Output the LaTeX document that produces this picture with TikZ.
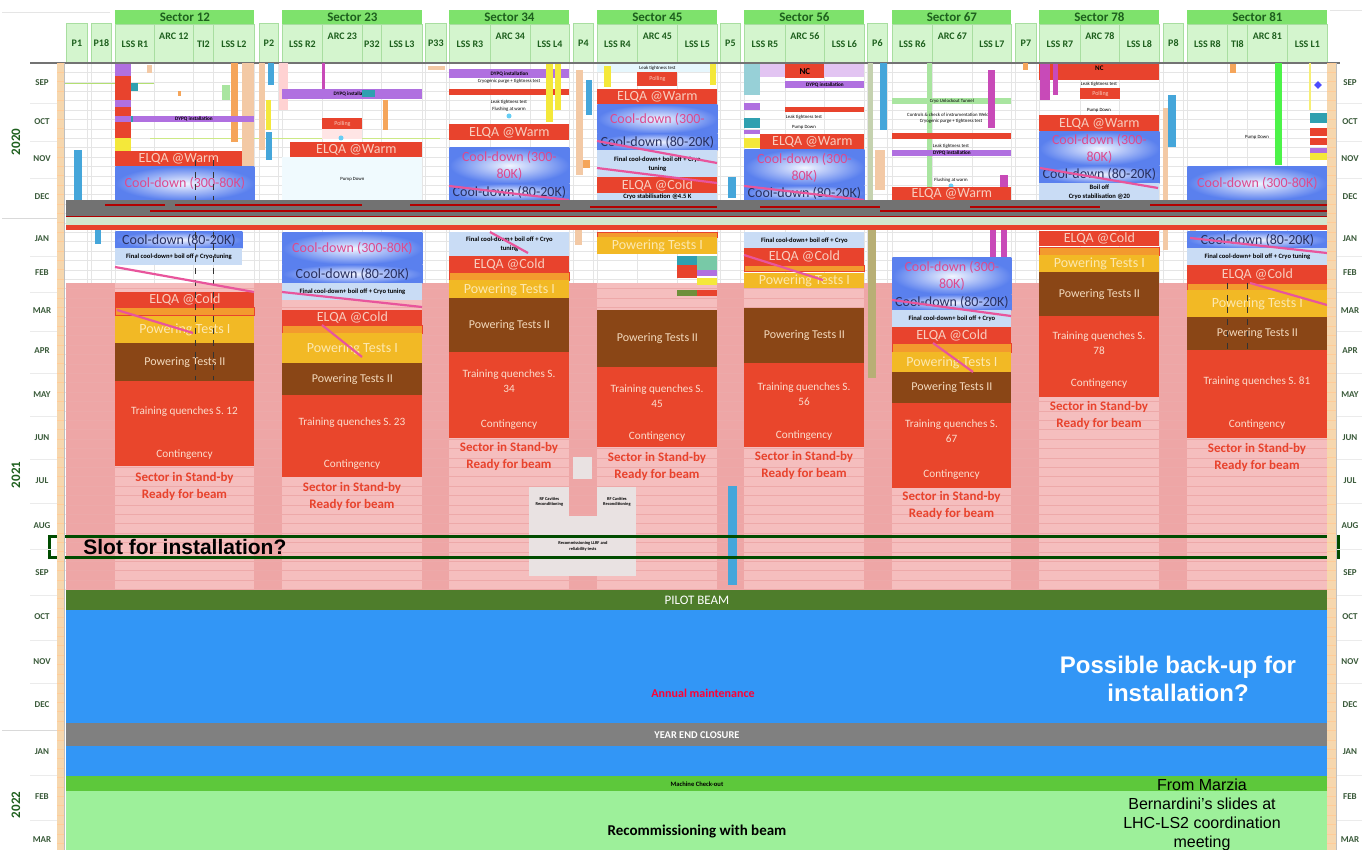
\documentclass[tikz,border=0pt]{standalone}
\usepackage{fontspec}
\setmainfont{Carlito}
\newfontfamily\arialfont{Liberation Sans}
\usetikzlibrary{shapes.geometric}

\definecolor{elqared}{HTML}{E8432D}
\definecolor{elqatxt}{HTML}{F8CDBE}
\definecolor{cdout}{HTML}{5A80EE}
\definecolor{cdin}{HTML}{F2F5FF}
\definecolor{cdpink}{HTML}{DC4A8E}
\definecolor{cdnavy}{HTML}{283060}
\definecolor{fcdblue}{HTML}{C9DCF5}
\definecolor{gpsor}{HTML}{F39A2E}
\definecolor{ptone}{HTML}{F2B925}
\definecolor{ptonetxt}{HTML}{FCE8B0}
\definecolor{pttwo}{HTML}{8A4616}
\definecolor{pttwotxt}{HTML}{F3D9BC}
\definecolor{trqred}{HTML}{E9462C}
\definecolor{trqtext}{HTML}{FBDCCC}
\definecolor{pinkbg}{HTML}{F5BEBE}
\definecolor{pinkgap}{HTML}{EEA6A6}
\definecolor{pinkline}{HTML}{EDA9A9}
\definecolor{hdrgreen}{HTML}{7EE26C}
\definecolor{hdrtxt}{HTML}{1D5F1D}
\definecolor{subgreen}{HTML}{D4F5CE}
\definecolor{subline}{HTML}{A8DEA0}
\definecolor{montxt}{HTML}{3A5A3A}
\definecolor{greyband}{HTML}{727272}
\definecolor{pilotgreen}{HTML}{4E7D2B}
\definecolor{maintblue}{HTML}{3296F6}
\definecolor{yearend}{HTML}{808080}
\definecolor{checkout}{HTML}{5DC83B}
\definecolor{recom}{HTML}{9DF09A}
\definecolor{diagpink}{HTML}{E8559C}
\definecolor{wkstrip}{HTML}{F6D7AE}
\definecolor{purp}{HTML}{B070E0}
\definecolor{tealb}{HTML}{2FA0B0}
\definecolor{yel}{HTML}{F4E83A}
\definecolor{tanb}{HTML}{F3C9A5}
\definecolor{orgb}{HTML}{F5A55A}
\definecolor{blu}{HTML}{45A6DA}
\definecolor{oliveb}{HTML}{6F8F3A}
\definecolor{ltgreen}{HTML}{A9E5A0}
\definecolor{lav}{HTML}{E2C4F2}
\definecolor{magv}{HTML}{C84AB8}
\definecolor{rfgrey}{HTML}{E9E2E2}

\begin{document}
\begin{tikzpicture}[x=0.5pt, y=-0.5pt,
  every node/.style={inner sep=0pt, font=\fontsize{5}{6}\selectfont},
  sz/.style 2 args={anchor=north west, minimum width=(#1)*0.5pt, minimum height=(#2)*0.5pt},
  sect/.style={fill=hdrgreen, text=hdrtxt, font=\bfseries\fontsize{6.5}{7}\selectfont},
  subc/.style={fill=subgreen, draw=subline, line width=0.4pt, text=hdrtxt, font=\bfseries\fontsize{5}{6}\selectfont, align=center},
  mon/.style={text=montxt, font=\bfseries\fontsize{4.5}{5}\selectfont},
  yr/.style={text=hdrtxt, rotate=90, font=\bfseries\fontsize{6.5}{7}\selectfont},
  elqa/.style={fill=elqared, text=elqatxt, font=\fontsize{7}{8}\selectfont},
  cdhi/.style={inner color=cdin, outer color=cdout, text=cdpink, font=\fontsize{7}{8.5}\selectfont, align=center},
  cdlo/.style={inner color=cdin, outer color=cdout, text=cdnavy, font=\fontsize{7}{8}\selectfont},
  fcd/.style={fill=fcdblue, text=black, font=\bfseries\fontsize{3.3}{4.4}\selectfont, align=center},
  gps/.style={fill=gpsor, draw=elqared, line width=0.5pt},
  pta/.style={fill=ptone, text=ptonetxt, font=\fontsize{7}{8}\selectfont},
  ptb/.style={fill=pttwo, text=pttwotxt, font=\fontsize{6}{7}\selectfont},
  trq/.style={fill=trqred},
  trqtxt/.style={text=trqtext, font=\fontsize{5.6}{7.5}\selectfont, align=center},
  stby/.style={text=elqared, font=\bfseries\fontsize{6.5}{8.5}\selectfont, align=center},
  note/.style={font=\fontsize{2.4}{3}\selectfont, align=center},
  dypq/.style={fill=purp, font=\bfseries\fontsize{2.6}{3}\selectfont},
  poll/.style={fill=elqared, text=elqatxt, font=\fontsize{3}{3.5}\selectfont},
  rfbox/.style={fill=rfgrey, font=\bfseries\fontsize{2.2}{2.8}\selectfont, align=center},
  diag/.style={draw=diagpink, line width=1.1pt},
  grd/.style={draw=black!10, line width=0.25pt},
  pgrd/.style={draw=pinkline, line width=0.25pt},
  redln/.style={draw=red!70!black, line width=0.9pt}]

\useasboundingbox (0,0) rectangle (1362,850);
\fill[white] (0,0) rectangle (1362,850);

% header
\draw[black!10] (2,12) -- (110,12);
\draw[black!10] (1330,10) -- (1362,10);
\node[sect, sz={139}{14}] (s12) at (115,10) {Sector 12};
\node[sect, sz={140}{14}] (s23) at (282,10) {Sector 23};
\node[sect, sz={120}{14}] (s34) at (449,10) {Sector 34};
\node[sect, sz={120}{14}] (s45) at (597,10) {Sector 45};
\node[sect, sz={120}{14}] (s56) at (744,10) {Sector 56};
\node[sect, sz={119}{14}] (s67) at (892,10) {Sector 67};
\node[sect, sz={120}{14}] (s78) at (1039,10) {Sector 78};
\node[sect, sz={140}{14}] (s81) at (1187,10) {Sector 81};
\foreach \xa/\xb/\lab [count=\i] in {66/87/P1, 91/111/P18, 259/278/P2, 425/446/P33, 573/593/P4,
    720/740/P5, 867/887/P6, 1015/1036/P7, 1163/1183/P8}
  \node[subc, sz={\xb-\xa}{40}] (p\i) at (\xa,23) {\lab};
\foreach \xa/\xb/\lab [count=\i] in {115/154/LSS R1, 154/193/ARC 12\\\strut, 193/213/TI2, 213/254/LSS L2,
    282/322/LSS R2, 322/362/ARC 23\\\strut, 362/381/P32, 381/422/LSS L3,
    449/490/LSS R3, 490/530/ARC 34\\\strut, 530/569/LSS L4,
    597/637/LSS R4, 637/677/ARC 45\\\strut, 677/717/LSS L5,
    744/785/LSS R5, 785/824/ARC 56\\\strut, 824/864/LSS L6,
    892/932/LSS R6, 932/972/ARC 67\\\strut, 972/1011/LSS L7,
    1039/1080/LSS R7, 1080/1119/ARC 78\\\strut, 1119/1159/LSS L8,
    1187/1227/LSS R8, 1227/1247/TI8, 1247/1287/ARC 81\\\strut, 1287/1327/LSS L1}
  \node[subc, sz={\xb-\xa}{39}] (h\i) at (\xa,24) {\lab};

% grid
\foreach \k in {0,...,56}
  \draw[grd] (64,{63+9.4*\k}) -- (1327,{63+9.4*\k});
\foreach \xx in {87,91,111,115,154,193,213,254,259,278,282,322,362,381,422,425,446,449,490,530,569,573,593,597,
    637,677,717,720,740,744,785,824,864,867,887,892,932,972,1011,1015,1036,1039,1080,1119,1159,1163,1183,1187,
    1227,1247,1287}
  \draw[grd] (\xx,63) -- (\xx,590);
\fill[pinkbg] (66,283) rectangle (1327,590);
\foreach \xa/\xb in {66/115, 254/282, 422/449, 569/597, 717/744, 864/892, 1011/1039, 1159/1187}
  \fill[pinkgap] (\xa,283) rectangle (\xb,590);
\foreach \k in {24,...,56}
  \draw[pgrd] (66,{63+9.4*\k}) -- (1327,{63+9.4*\k});
\draw[black!55, line width=0.6pt] (30,63) -- (1340,63);

% small items before the winter stop
\draw[yellow!50!green!60, line width=0.5pt] (64,84) -- (154,84);
\draw[yellow!60!green!50, line width=0.5pt] (150,139) -- (440,139);
\fill[purp] (115,64) rectangle (131,76);
\fill[elqared] (115,76) rectangle (131,100);
\fill[tealb] (131,83) rectangle (138,91);
\fill[purp] (115,100) rectangle (131,107);
\fill[elqared] (115,107) rectangle (131,116);
\fill[purp] (115,116) rectangle (131,122);
\fill[tealb] (131,116) rectangle (137,122);
\fill[elqared] (115,122) rectangle (131,138);
\fill[yel] (115,138) rectangle (131,151);
\fill[tanb] (147,65) rectangle (152,73);
\fill[orgb] (178,91) rectangle (181,96);
\fill[ltgreen] (222,85) rectangle (230,100);
\fill[orgb] (231,63) rectangle (238,142);
\fill[tanb] (242,63) rectangle (254,190);
\fill[blu] (74,150) rectangle (82,200);
\fill[blu] (95,226) rectangle (101,244);
\node[dypq, sz={121}{6}] (dy12) at (133,116) {DYPQ installation};
\fill[tanb] (259,63) rectangle (265,150);
\fill[blu] (268,63) rectangle (274,85);
\fill[yel] (266,100) rectangle (271,130);
\fill[blu] (266,132) rectangle (272,160);
\fill[pink!70] (279,63) rectangle (288,110);
\fill[magv] (322,63) rectangle (325,90);
\node[dypq, sz={140}{10}] (dy23) at (282,89) {DYPQ installation};
\fill[tealb] (362,90) rectangle (375,97);
\fill[orgb] (383,100) rectangle (388,130);
\node[poll, sz={40}{11}] (pl23) at (322,118) {Polling};
\fill[pink!40] (322,129) rectangle (362,139);
\fill[cyan!60] (341,138) circle (2.5);
\fill[orgb] (382,188) rectangle (420,192);
\fill[tanb] (428,66) rectangle (445,70);
\node[dypq, sz={120}{9}] (dy34) at (449,69) {DYPQ installation};
\node[note] (cp34) at (509,81) {Cryogenic purge + tightness test};
\fill[elqared] (449,89) rectangle (569,95);
\node[note] (lk34) at (509,102) {Leak tightness test};
\node[note] (fl34) at (509,109) {Flushing at warm};
\fill[cyan!60] (509,116) circle (2.5);
\fill[yel] (546,64) rectangle (553,122);
\fill[yel] (555,64) rectangle (561,110);
\fill[tanb] (576,70) rectangle (583,175);
\fill[blu] (586,80) rectangle (592,115);
\fill[orgb] (583,160) rectangle (590,168);
\node[fill=cyan!10, note, sz={120}{8}] (lk45) at (597,64) {Leak tightness test};
\fill[yel] (604,66) rectangle (611,87);
\fill[yel] (710,64) rectangle (716,85);
\node[poll, sz={40}{14}] (pl45) at (637,72) {Polling};
\fill[blu] (728,177) rectangle (736,198);
\fill[tealb!50] (744,64) rectangle (760,95);
\fill[lav] (760,64) rectangle (785,77);
\node[fill=elqared, font=\bfseries\fontsize{4.5}{5}\selectfont, sz={39}{14}] (nc56) at (785,64) {NC};
\fill[lav] (824,64) rectangle (864,77);
\node[dypq, sz={79}{7}] (dy56) at (785,81) {DYPQ installation};
\fill[elqared] (785,107) rectangle (864,112);
\node[note] (lk56) at (804,117) {Leak tightness test};
\node[note] (pd56) at (804,127) {Pump Down};
\fill[purp] (744,103) rectangle (760,110);
\fill[tealb] (744,118) rectangle (760,128);
\fill[purp] (744,130) rectangle (760,134);
\fill[yel] (744,138) rectangle (760,148);
\fill[oliveb!40] (868,63) rectangle (873,200);
\fill[blu] (880,63) rectangle (887,130);
\fill[tanb] (875,150) rectangle (885,190);
\fill[ltgreen] (927,63) rectangle (932,200);
\node[fill=ltgreen, note, sz={119}{6}] (cu67) at (892,98) {Cryo Unlockout Tunnel};
\node[note] (ct67) at (951,118) {Controls \& check of instrumentation Welding\\Cryogenic purge + tightness test};
\fill[elqared] (892,133) rectangle (1011,139);
\node[note] (lk67) at (951,146) {Leak tightness test};
\node[dypq, sz={119}{6}] (dy67) at (892,150) {DYPQ installation};
\node[note] (fl67) at (951,180) {Flushing at warm};
\fill[cyan!60] (951,186) circle (2.5);
\fill[magv] (988,70) rectangle (995,128);
\fill[magv] (1000,175) rectangle (1008,200);
\fill[orgb] (1023,63) rectangle (1028,70);
\node[fill=elqared, font=\bfseries\fontsize{3.5}{4}\selectfont, sz={120}{8}] (nc78) at (1039,64) {NC};
\fill[elqared] (1039,72) rectangle (1159,80);
\fill[magv] (1040,64) rectangle (1050,100);
\fill[magv] (1053,64) rectangle (1058,95);
\node[note] (lk78) at (1099,84) {Leak tightness test};
\node[poll, sz={40}{11}] (pl78) at (1080,88) {Polling};
\node[note] (pd78) at (1099,110) {Pump Down};
\fill[tanb] (1163,108) rectangle (1168,250);
\fill[blu] (1168,95) rectangle (1176,147);
\fill[orgb] (1230,64) rectangle (1236,73);
\fill[green!55!ltgreen] (1275,63) rectangle (1282,165);
\fill[yel!70] (1309,63) rectangle (1311,110);
\node[diamond, fill=blue!70, minimum size=4pt] (dm81) at (1318,85) {};
\node[note] (pd81) at (1257,137) {Pump Down};
\fill[tealb] (1310,113) rectangle (1327,123);
\fill[elqared] (1310,128) rectangle (1327,136);
\fill[elqared] (1310,138) rectangle (1327,145);
\fill[purp] (1310,148) rectangle (1327,153);
\fill[yel] (1310,153) rectangle (1327,160);

% sector 12
\node[elqa, sz={127}{15}] (w12) at (115,151) {ELQA @Warm};
\node[cdhi, sz={139}{34}] (ch12) at (115,166) {Cool-down (300-80K)};
\node[cdlo, sz={127}{17}] (cl12) at (115,231) {Cool-down (80-20K)};
\node[fcd, sz={127}{17}] (f12) at (115,248) {Final cool-down+ boil off + Cryo tuning};
\node[elqa, sz={139}{15}] (c12) at (115,292) {ELQA @Cold};
\node[gps, sz={139}{8}] (g12) at (115,307) {};
\node[pta, sz={139}{27}] (pa12) at (115,316) {Powering Tests I};
\node[ptb, sz={139}{38}] (pb12) at (115,343) {Powering Tests II};
\node[trq, sz={139}{85}] (tq12) at (115,381) {};
\node[trqtxt] (tq12a) at (184.5,412) {Training quenches S. 12};
\node[trqtxt] (tq12b) at (184.5,455) {Contingency};
\node[stby] (sb12) at (184.5,486) {Sector in Stand-by\\Ready for beam};

% sector 23
\node[elqa, sz={132}{15}] (w23) at (290,142) {ELQA @Warm};
\node[fill=cyan!6, note, sz={140}{43}] (pd23) at (282,157) {Pump Down};
\node[cdhi, sz={140}{32}] (ch23) at (282,232) {Cool-down (300-80K)};
\node[cdlo, sz={140}{19}] (cl23) at (282,264) {Cool-down (80-20K)};
\node[fcd, sz={140}{17}] (f23) at (282,283) {Final cool-down+ boil off + Cryo tuning};
\node[elqa, sz={140}{15}] (c23) at (282,310) {ELQA @Cold};
\node[gps, sz={140}{8}] (g23) at (282,325) {};
\node[pta, sz={140}{30}] (pa23) at (282,333) {Powering Tests I};
\node[ptb, sz={140}{32}] (pb23) at (282,363) {Powering Tests II};
\node[trq, sz={140}{82}] (tq23) at (282,395) {};
\node[trqtxt] (tq23a) at (352,423) {Training quenches S. 23};
\node[trqtxt] (tq23b) at (352,465) {Contingency};
\node[stby] (sb23) at (352,496) {Sector in Stand-by\\Ready for beam};

% sector 34
\node[elqa, sz={120}{16}] (w34) at (449,124) {ELQA @Warm};
\node[cdhi, sz={120}{36}] (ch34) at (449,147) {Cool-down (300-\\80K)};
\node[cdlo, sz={120}{17}] (cl34) at (449,183) {Cool-down (80-20K)};
\node[fcd, sz={120}{24}] (f34) at (449,232) {Final cool-down+ boil off + Cryo\\tuning};
\node[elqa, sz={120}{16}] (c34) at (449,256) {ELQA @Cold};
\node[gps, sz={120}{8}] (g34) at (449,272) {};
\node[pta, sz={120}{18}] (pa34) at (449,280) {Powering Tests I};
\node[ptb, sz={120}{54}] (pb34) at (449,298) {Powering Tests II};
\node[trq, sz={120}{86}] (tq34) at (449,352) {};
\node[trqtxt] (tq34a) at (509,381) {Training quenches S.\\34};
\node[trqtxt] (tq34b) at (509,425) {Contingency};
\node[stby] (sb34) at (509,456) {Sector in Stand-by\\Ready for beam};
\fill[tanb] (575,230) rectangle (582,245);

% sector 45
\node[elqa, sz={120}{15}] (w45) at (597,89) {ELQA @Warm};
\node[cdhi, sz={120}{29}] (ch45) at (597,104) {Cool-down (300-};
\node[cdlo, sz={120}{17}] (cl45) at (597,133) {Cool-down (80-20K)};
\node[fcd, sz={120}{27}] (f45) at (597,150) {Final cool-down+ boil off + Cryo\\tuning};
\node[elqa, sz={120}{16}] (c45) at (597,177) {ELQA @Cold};
\node[fcd, sz={120}{7}] (cs45) at (597,193) {Cryo stabilisation @4.5 K};
\node[gps, sz={120}{5}] (g45) at (597,232) {};
\node[pta, sz={120}{17}] (pa45) at (597,237) {Powering Tests I};
\fill[tealb] (677,256) rectangle (697,265);
\fill[ltgreen!60!tealb] (697,256) rectangle (717,270);
\fill[elqared] (677,265) rectangle (697,278);
\fill[purp] (697,270) rectangle (717,276);
\fill[yel] (697,278) rectangle (717,285);
\fill[oliveb] (677,290) rectangle (697,296);
\fill[elqared] (697,290) rectangle (717,296);
\node[ptb, sz={120}{57}] (pb45) at (597,310) {Powering Tests II};
\node[trq, sz={120}{80}] (tq45) at (597,367) {};
\node[trqtxt] (tq45a) at (657,396) {Training quenches S.\\45};
\node[trqtxt] (tq45b) at (657,437) {Contingency};
\node[stby] (sb45) at (657,466) {Sector in Stand-by\\Ready for beam};
\node[rfbox, sz={19}{22}] (bs4) at (573,457) {};
\node[rfbox, sz={40}{29}] (rf1) at (529,487) {RF Cavities\\Reconditioning};
\node[rfbox, sz={39}{29}] (rf2) at (597,487) {RF Cavities\\Reconditioning};
\node[rfbox, sz={107}{60}] (ll4) at (529,516) {Recommissioning LLRF and\\reliability tests};
\fill[blu] (728,486) rectangle (737,585);

% sector 56
\node[elqa, sz={104}{15}] (w56) at (760,134) {ELQA @Warm};
\node[cdhi, sz={120}{36}] (ch56) at (744,149) {Cool-down (300-\\80K)};
\node[cdlo, sz={120}{15}] (cl56) at (744,185) {Cool-down (80-20K)};
\node[fcd, sz={120}{16}] (f56) at (744,232) {Final cool-down+ boil off + Cryo};
\node[elqa, sz={120}{17}] (c56) at (744,248) {ELQA @Cold};
\node[gps, sz={120}{6}] (g56) at (744,265) {};
\node[pta, sz={120}{15}] (pa56) at (744,273) {Powering Tests I};
\node[ptb, sz={120}{55}] (pb56) at (744,308) {Powering Tests II};
\node[trq, sz={120}{84}] (tq56) at (744,363) {};
\node[trqtxt] (tq56a) at (804,394) {Training quenches S.\\56};
\node[trqtxt] (tq56b) at (804,436) {Contingency};
\node[stby] (sb56) at (804,465) {Sector in Stand-by\\Ready for beam};
\fill[oliveb!45!tanb] (868,225) rectangle (876,378);

% sector 67
\node[elqa, sz={119}{13}] (w67) at (892,187) {ELQA @Warm};
\fill[magv] (990,226) rectangle (996,258);
\fill[magv] (1001,226) rectangle (1007,258);
\node[cdhi, sz={119}{37}] (ch67) at (892,257) {Cool-down (300-\\80K)};
\node[cdlo, sz={119}{16}] (cl67) at (892,294) {Cool-down (80-20K)};
\node[fcd, sz={119}{17}] (f67) at (892,310) {Final cool-down+ boil off + Cryo};
\node[elqa, sz={119}{16}] (c67) at (892,327) {ELQA @Cold};
\node[gps, sz={119}{9}] (g67) at (892,343) {};
\node[pta, sz={119}{20}] (pa67) at (892,352) {Powering Tests I};
\node[ptb, sz={119}{31}] (pb67) at (892,372) {Powering Tests II};
\node[trq, sz={119}{85}] (tq67) at (892,403) {};
\node[trqtxt] (tq67a) at (951.5,431) {Training quenches S.\\67};
\node[trqtxt] (tq67b) at (951.5,475) {Contingency};
\node[stby] (sb67) at (951.5,505) {Sector in Stand-by\\Ready for beam};

% sector 78
\node[elqa, sz={120}{16}] (w78) at (1039,115) {ELQA @Warm};
\node[cdhi, sz={120}{34}] (ch78) at (1039,131) {Cool-down (300-\\80K)};
\node[cdlo, sz={120}{18}] (cl78) at (1039,165) {Cool-down (80-20K)};
\node[fcd, sz={120}{17}] (f78) at (1039,183) {Boil off\\Cryo stabilisation @20};
\node[elqa, sz={120}{15}] (c78) at (1039,231) {ELQA @Cold};
\node[gps, sz={120}{8}] (g78) at (1039,247) {};
\node[pta, sz={120}{17}] (pa78) at (1039,255) {Powering Tests I};
\node[ptb, sz={120}{44}] (pb78) at (1039,272) {Powering Tests II};
\node[trq, sz={120}{81}] (tq78) at (1039,316) {};
\node[trqtxt] (tq78a) at (1099,343) {Training quenches S.\\78};
\node[trqtxt] (tq78b) at (1099,384) {Contingency};
\node[stby] (sb78) at (1099,415) {Sector in Stand-by\\Ready for beam};

% sector 81
\node[cdhi, sz={140}{34}] (ch81) at (1187,166) {Cool-down (300-80K)};
\fill[tanb] (1190,228) rectangle (1196,270);
\node[cdlo, sz={140}{17}] (cl81) at (1187,231) {Cool-down (80-20K)};
\node[fcd, sz={140}{17}] (f81) at (1187,248) {Final cool-down+ boil off + Cryo tuning};
\node[elqa, sz={140}{18}] (c81) at (1187,265) {ELQA @Cold};
\node[gps, sz={140}{7}] (g81) at (1187,283) {};
\node[pta, sz={140}{27}] (pa81) at (1187,290) {Powering Tests I};
\node[ptb, sz={140}{33}] (pb81) at (1187,317) {Powering Tests II};
\node[trq, sz={140}{88}] (tq81) at (1187,350) {};
\node[trqtxt] (tq81a) at (1257,382) {Training quenches S. 81};
\node[trqtxt] (tq81b) at (1257,425) {Contingency};
\node[stby] (sb81) at (1257,457) {Sector in Stand-by\\Ready for beam};

% dashed guides and pink strokes
\draw[black!80, dashed, line width=0.4pt] (195,160) -- (195,380);
\draw[black!80, dashed, line width=0.4pt] (213,160) -- (213,380);
\draw[black!80, dashed, line width=0.4pt] (1227,283) -- (1227,350);
\draw[black!80, dashed, line width=0.4pt] (1247,283) -- (1247,350);
\draw[diag] (115,267) -- (254,292);
\draw[diag] (117,310) -- (193,333);
\draw[diag] (282,292) -- (422,307);
\draw[diag] (322,325) -- (362,357);
\draw[diag] (449,186) -- (569,200);
\draw[diag] (490,232) -- (528,253);
\draw[diag] (597,141) -- (717,163);
\draw[diag] (597,168) -- (717,183);
\draw[diag] (744,186) -- (864,200);
\draw[diag] (744,255) -- (823,280);
\draw[diag] (892,300) -- (1011,316);
\draw[diag] (933,343) -- (973,372);
\draw[diag] (1040,168) -- (1158,188);
\draw[diag] (1190,238) -- (1327,253);
\draw[diag] (1250,283) -- (1327,305);

% winter stop
\fill[greyband] (66,200) rectangle (1327,216);
\draw[red!70!black, line width=0.5pt] (66,216.5) -- (1327,216.5);
\fill[black!15!ltgreen!40!white] (66,217) rectangle (1327,225);
\fill[elqared] (66,225) rectangle (1327,230);
\draw[redln] (105,205) -- (165,205);
\draw[redln] (175,205) -- (362,205);
\draw[redln] (410,205) -- (560,205);
\draw[redln] (590,207) -- (717,207);
\draw[redln] (760,207) -- (880,207);
\draw[redln] (970,207) -- (1100,207);
\draw[redln] (1150,205) -- (1327,205);
\draw[redln] (150,211) -- (800,211);
\draw[redln] (880,211) -- (1327,211);

% 2021 - 2022 machine
\node[fill=pilotgreen, text=white, font=\fontsize{6.5}{7}\selectfont, sz={1261}{20}] (pilot) at (66,590) {PILOT BEAM};
\node[fill=maintblue, sz={1261}{113}] (maint) at (66,610) {};
\node[text=red!80!magenta, font=\bfseries\fontsize{6}{7}\selectfont] (maintt) at (703,693) {Annual maintenance};
\node[fill=yearend, text=white, font=\bfseries\fontsize{5.2}{6}\selectfont, sz={1261}{23}] (yec) at (66,723) {YEAR END CLOSURE};
\node[fill=maintblue, sz={1261}{30}] (maint2) at (66,746) {};
\node[fill=checkout, font=\bfseries\fontsize{3.3}{4}\selectfont, sz={1261}{15}] (mco) at (66,776) {Machine Check-out};
\node[fill=recom, sz={1261}{59}] (rcb) at (66,791) {};
\node[font=\bfseries\fontsize{7.5}{8}\selectfont] (rcbt) at (697,832) {Recommissioning with beam};
\node[text=white, align=center, font=\arialfont\bfseries\fontsize{12}{14}\selectfont] (bkup) at (1178,679) {Possible back-up for\\installation?};
\node[align=center, font=\arialfont\fontsize{8}{9.5}\selectfont] (src) at (1202,815) {From Marzia\\Bernardini’s slides at\\LHC-LS2 coordination\\meeting};

% slot
\draw[black!40!green!50!black, line width=1.5pt] (49,537) rectangle (1338,558);
\node[anchor=west, font=\arialfont\bfseries\fontsize{10.5}{12}\selectfont] (slot) at (83,547) {Slot for installation?};

% week strips, months, years
\fill[wkstrip] (57,63) rectangle (64,850);
\fill[wkstrip] (1327,63) rectangle (1336,850);
\foreach \k in {0,...,83} {
  \draw[orange!40, line width=0.3pt] (57,{63+9.4*\k}) -- (64,{63+9.4*\k});
  \draw[orange!40, line width=0.3pt] (1327,{63+9.4*\k}) -- (1336,{63+9.4*\k});
}
\draw[black!25, line width=0.3pt] (64,63) -- (64,850);
\draw[black!25, line width=0.3pt] (1336,63) -- (1336,850);
\foreach \yy in {103,141,178,256,292,331,373,416,459,503,549,595,640,683,775,820} {
  \draw[black!8] (30,\yy) -- (57,\yy);
  \draw[black!8] (1337,\yy) -- (1362,\yy);
}
\draw[black!15] (2,218) -- (57,218);
\draw[black!15] (2,730) -- (57,730);
\foreach \m/\yy in {SEP/83, OCT/122, NOV/159, DEC/197, JAN/239, FEB/273, MAR/311, APR/351, MAY/395,
    JUN/438, JUL/481, AUG/526, SEP/573, OCT/617, NOV/662, DEC/705, JAN/752, FEB/797, MAR/840} {
  \node[mon] (ml\yy) at (42,\yy) {\m};
  \node[mon] (mr\yy) at (1350,\yy) {\m};
}
\node[yr] (y20) at (16,142) {2020};
\node[yr] (y21) at (16,475) {2021};
\node[yr] (y22) at (16,805) {2022};
\end{tikzpicture}
\end{document}
